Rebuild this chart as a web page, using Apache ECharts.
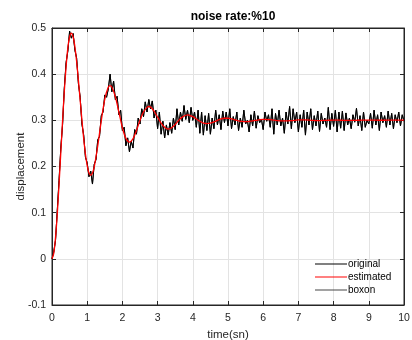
<!DOCTYPE html>
<html>
<head>
<meta charset="utf-8">
<script src="https://cdn.jsdelivr.net/npm/echarts@6/dist/echarts.min.js"></script>
<style>
html,body{margin:0;padding:0;background:#fff;}
#chart{width:412px;height:340px;}
</style>
</head>
<body>
<div id="chart"></div>
<script>
// ---- data ----
var titleText = "noise rate:%10";
var seriesNames = ["original", "estimated", "boxon"];
var xTickLabels = ["0","1","2","3","4","5","6","7","8","9","10"];
var yTickLabels = ["-0.1","0","0.1","0.2","0.3","0.4","0.5"];

// original (noisy) signal, sampled every 0.05 s from 0 to 10
var origStep = 0.05;
var originalValues = [
0.000,0.015,0.040,0.105,0.170,0.240,0.290,0.370,0.425,0.450,
0.493,0.478,0.488,0.452,0.435,0.380,0.350,0.292,0.268,0.220,
0.208,0.178,0.190,0.162,0.205,0.215,0.258,0.265,0.310,0.318,
0.355,0.350,0.368,0.400,0.362,0.385,0.345,0.352,0.312,0.322,
0.278,0.285,0.245,0.262,0.232,0.255,0.240,0.280,0.270,0.305,
0.292,0.325,0.308,0.340,0.318,0.345,0.325,0.342,0.305,0.322,
0.282,0.318,0.270,0.298,0.262,0.290,0.268,0.295,0.272,0.305,
0.280,0.325,0.290,0.318,0.298,0.332,0.302,0.322,0.295,0.328,
0.300,0.318,0.285,0.322,0.272,0.318,0.268,0.310,0.278,0.315,
0.270,0.305,0.282,0.322,0.290,0.312,0.280,0.320,0.295,0.318,
0.288,0.325,0.282,0.308,0.290,0.318,0.278,0.305,0.285,0.322,
0.292,0.300,0.275,0.312,0.288,0.320,0.283,0.310,0.295,0.302,
0.280,0.318,0.298,0.312,0.285,0.325,0.270,0.315,0.290,0.322,
0.288,0.305,0.272,0.318,0.292,0.330,0.282,0.325,0.295,0.318,
0.275,0.312,0.285,0.322,0.268,0.318,0.290,0.325,0.280,0.310,
0.288,0.320,0.276,0.315,0.292,0.305,0.285,0.328,0.280,0.315,
0.287,0.322,0.275,0.318,0.283,0.320,0.278,0.316,0.290,0.305,
0.282,0.312,0.296,0.326,0.288,0.310,0.278,0.318,0.285,0.300,
0.292,0.315,0.283,0.322,0.290,0.312,0.278,0.318,0.295,0.310,
0.285,0.320,0.290,0.315,0.282,0.312,0.295,0.318,0.288,0.312,
0.298
];

// estimated (smooth) signal
var estTimes = [
0,0.05,0.1,0.15,0.2,0.25,0.3,0.35,0.4,0.45,0.5,0.55,0.6,0.65,0.7,0.75,0.8,0.85,0.9,0.95,
1.0,1.05,1.1,1.15,1.2,1.3,1.4,1.5,1.6,1.65,1.7,1.8,1.9,2.0,2.1,2.2,2.3,2.4,2.5,2.6,
2.7,2.75,2.8,2.9,3.0,3.1,3.2,3.3,3.4,3.5,3.6,3.7,3.8,3.85,3.9,4.0,4.1,4.2,4.3,4.4,
4.5,4.6,4.7,4.8,4.9,5.0,5.1,5.2,5.3,5.4,5.5,5.6,5.7,5.8,5.9,6.0,6.2,6.4,6.6,6.8,
7.0,7.2,7.4,7.6,7.8,8.0,8.2,8.4,8.6,8.8,9.0,9.2,9.4,9.6,9.8,10.0
];
var estimatedValues = [
0.000,0.012,0.046,0.097,0.161,0.230,0.299,0.363,0.416,0.457,0.481,0.489,0.481,0.460,0.427,0.387,0.344,0.301,0.261,0.227,
0.202,0.186,0.181,0.186,0.199,0.245,0.299,0.346,0.372,0.375,0.372,0.351,0.318,0.284,0.261,0.253,0.260,0.278,0.300,0.318,
0.328,0.330,0.329,0.320,0.307,0.294,0.285,0.281,0.284,0.291,0.300,0.307,0.311,0.312,0.311,0.308,0.303,0.298,0.294,0.293,
0.294,0.2965,0.300,0.303,0.3045,0.3045,0.303,0.301,0.299,0.2976,0.297,0.2975,0.2986,0.300,0.3015,0.302,0.3015,0.2995,0.2988,0.2995,
0.3008,0.3010,0.3000,0.2995,0.3000,0.3005,0.3002,0.2998,0.3000,0.3003,0.3005,0.3003,0.3002,0.3004,0.3006,0.3005
];

var origData = originalValues.map(function(v, i){ return [+(i*origStep).toFixed(2), v]; });
var estData = estimatedValues.map(function(v, i){ return [estTimes[i], v]; });

var axisColor = '#262626';
var gridColor = '#e3e3e3';
var fontFam = '"Liberation Sans", Arial, Helvetica, sans-serif';

var chart = echarts.init(document.getElementById('chart'), null, {renderer:'canvas'});
chart.setOption({
  animation:false,
  backgroundColor:'#fff',
  title:{
    text:titleText, left:228, top:6, textAlign:'center',
    textStyle:{fontFamily:fontFam, fontSize:12, fontWeight:'bold', color:'#000'}
  },
  grid:{left:52, right:8, top:28, bottom:35, containLabel:false, outerBoundsMode:'none',
    show:true, borderColor:axisColor, borderWidth:1, backgroundColor:'#fff'},
  legend:{
    data:seriesNames, orient:'vertical', left:310, top:254, itemWidth:32, itemHeight:10, itemGap:3,
    textStyle:{fontFamily:fontFam, fontSize:10, color:'#000', padding:[0,0,0,-4]},
    icon:'path://M0,4.5 L32,4.5 L32,5.5 L0,5.5 Z'
  },
  xAxis:[{
    type:'value', min:0, max:10, interval:1,
    name:'time(sn)', nameLocation:'middle', nameGap:19,
    nameTextStyle:{fontFamily:fontFam, fontSize:11.5, color:axisColor},
    axisLine:{show:true, onZero:false, lineStyle:{color:axisColor}},
    axisTick:{show:true, inside:true, length:4, lineStyle:{color:axisColor}},
    axisLabel:{fontFamily:fontFam, fontSize:10.5, color:axisColor, margin:8,
      formatter:function(v){ return xTickLabels[Math.round(v)]; }},
    splitLine:{show:true, lineStyle:{color:gridColor, width:1}}
  },{
    type:'value', position:'top', min:0, max:10, interval:1,
    axisLine:{show:true, onZero:false, lineStyle:{color:axisColor}},
    axisTick:{show:true, inside:true, length:4, lineStyle:{color:axisColor}},
    axisLabel:{show:false}, splitLine:{show:false}
  }],
  yAxis:[{
    type:'value', min:-0.1, max:0.5, interval:0.1,
    name:'displacement', nameLocation:'middle', nameGap:25, nameMoveOverlap:false,
    nameTextStyle:{fontFamily:fontFam, fontSize:11.5, color:axisColor},
    axisLine:{show:true, onZero:false, lineStyle:{color:axisColor}},
    axisTick:{show:true, inside:true, length:4, lineStyle:{color:axisColor}},
    axisLabel:{fontFamily:fontFam, fontSize:10.5, color:axisColor, margin:6,
      formatter:function(v){ return yTickLabels[Math.round((v+0.1)*10)]; }},
    splitLine:{show:true, lineStyle:{color:gridColor, width:1}}
  },{
    type:'value', position:'right', min:-0.1, max:0.5, interval:0.1,
    axisLine:{show:true, onZero:false, lineStyle:{color:axisColor}},
    axisTick:{show:true, inside:true, length:4, lineStyle:{color:axisColor}},
    axisLabel:{show:false}, splitLine:{show:false}
  }],
  series:[
    {name:seriesNames[0], type:'line', data:origData, showSymbol:false, symbol:'none', z:3,
      lineStyle:{color:'#000', width:1}, itemStyle:{color:'#000'}},
    {name:seriesNames[1], type:'line', data:estData, showSymbol:false, symbol:'none', smooth:0.3, z:4,
      lineStyle:{color:'#ff0000', width:1.3}, itemStyle:{color:'#ff0000'}},
    {name:seriesNames[2], type:'line', data:origData, showSymbol:false, symbol:'none', z:2,
      lineStyle:{color:'#222', width:1}, itemStyle:{color:'#444'}}
  ]
});
</script>
</body>
</html>
